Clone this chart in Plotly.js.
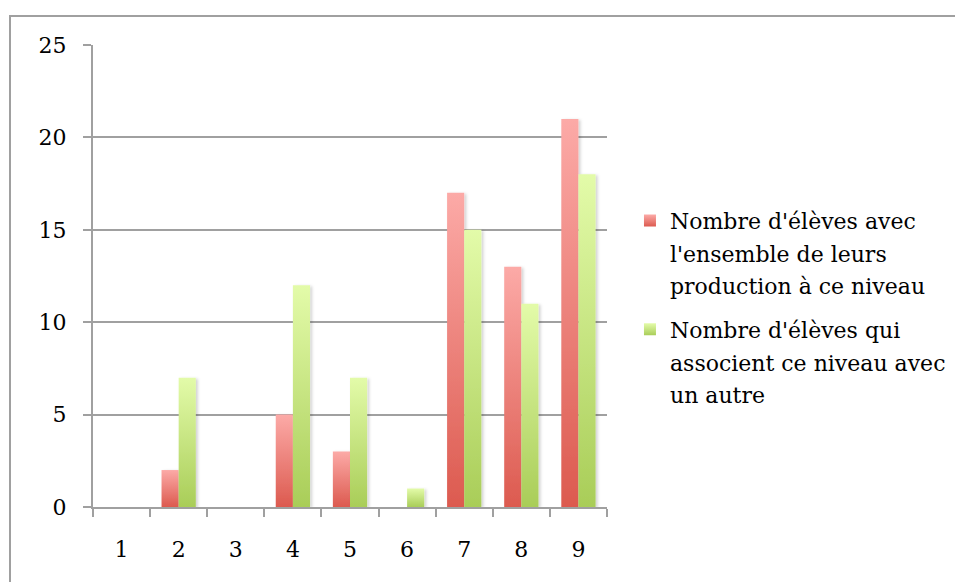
<!DOCTYPE html>
<html>
<head>
<meta charset="utf-8">
<script src="https://cdn.plot.ly/plotly-3.0.1.min.js"></script>
<style>
  html, body { margin: 0; padding: 0; background: #fff; }
  #wrap { position: relative; width: 955px; height: 582px; }
  #chart { position: absolute; left: 0; top: 0; width: 955px; height: 582px; }
  #frame { position: absolute; left: 9px; top: 15px; width: 960px; height: 580px;
           border-left: 2px solid #a0a0a0; border-top: 2px solid #a0a0a0; pointer-events: none; }
</style>
</head>
<body>
<div id="wrap">
  <div id="chart"></div>
  <div id="frame"></div>
</div>
<script>
const categories = ["1", "2", "3", "4", "5", "6", "7", "8", "9"];
const seriesNames = [
  "Nombre d'élèves avec<br>l'ensemble de leurs<br>production à ce niveau",
  "Nombre d'élèves qui<br>associent ce niveau avec<br>un autre"
];
const ensembleValues = [0, 2, 0, 5, 3, 0, 17, 13, 21];
const associeValues = [0, 7, 0, 12, 7, 1, 15, 11, 18];
const yTicks = [0, 5, 10, 15, 20, 25];

const FONT = "'DejaVu Serif', serif";
const FS = 22;
const GRID = "#a0a0a0";

const traces = [
  { type: "bar", name: seriesNames[0], x: categories, y: ensembleValues, legendgroup: "g1",
    marker: { color: "#ec7f78" }, hoverinfo: "none" },
  { type: "bar", name: seriesNames[1], x: categories, y: associeValues, legendgroup: "g2",
    marker: { color: "#c8e580" }, hoverinfo: "none" }
];

const layout = {
  width: 955, height: 582,
  margin: { l: 93, r: 348, t: 45, b: 75, pad: 0, autoexpand: false },
  paper_bgcolor: "#fff", plot_bgcolor: "#fff",
  font: { family: FONT, size: FS, color: "#000" },
  barmode: "group", bargap: 0.4, bargroupgap: 0,
  xaxis: {
    type: "category", tickson: "boundaries",
    ticks: "outside", ticklen: 8, tickwidth: 2, tickcolor: GRID,
    showline: true, linecolor: GRID, linewidth: 2,
    showgrid: false, zeroline: false,
    ticklabelstandoff: 22,
    tickfont: { family: FONT, size: FS, color: "#000" }
  },
  yaxis: {
    range: [0, 25], tickvals: yTicks, ticktext: yTicks.map(String),
    ticks: "outside", ticklen: 8, tickwidth: 2, tickcolor: GRID,
    showline: true, linecolor: GRID, linewidth: 2,
    showgrid: true, gridcolor: GRID, gridwidth: 2, zeroline: false,
    ticklabelstandoff: 12,
    tickfont: { family: FONT, size: FS, color: "#000" }
  },
  legend: {
    x: 1.0447, xanchor: "left", y: 0.665, yanchor: "top", valign: "top",
    traceorder: "grouped",
    font: { family: FONT, size: FS, color: "#000" },
    bgcolor: "rgba(0,0,0,0)", tracegroupgap: 20, itemwidth: 30
  },
  showlegend: true
};

Plotly.newPlot("chart", traces, layout, { staticPlot: true, displayModeBar: false }).then(function (gd) {
  const NS = "http://www.w3.org/2000/svg";
  const svg = gd.querySelector("svg.main-svg");
  let defs = svg.querySelector("defs");
  if (!defs) { defs = document.createElementNS(NS, "defs"); svg.insertBefore(defs, svg.firstChild); }
  function grad(id, top, bottom) {
    const g = document.createElementNS(NS, "linearGradient");
    g.setAttribute("id", id);
    g.setAttribute("x1", "0"); g.setAttribute("y1", "0");
    g.setAttribute("x2", "0"); g.setAttribute("y2", "1");
    [[0, top], [1, bottom]].forEach(function (s) {
      const st = document.createElementNS(NS, "stop");
      st.setAttribute("offset", s[0]);
      st.setAttribute("stop-color", s[1]);
      g.appendChild(st);
    });
    defs.appendChild(g);
  }
  grad("gradRed", "#fcaaa7", "#dc5a4f");
  grad("gradGreen", "#e3fba9", "#a9cd58");
  const f = document.createElementNS(NS, "filter");
  f.setAttribute("id", "barShadow");
  f.setAttribute("x", "-20%"); f.setAttribute("y", "-5%");
  f.setAttribute("width", "150%"); f.setAttribute("height", "110%");
  const ds = document.createElementNS(NS, "feDropShadow");
  ds.setAttribute("dx", "2"); ds.setAttribute("dy", "1");
  ds.setAttribute("stdDeviation", "1.5");
  ds.setAttribute("flood-color", "#000"); ds.setAttribute("flood-opacity", "0.18");
  f.appendChild(ds);
  defs.appendChild(f);
  const ids = ["gradRed", "gradGreen"];
  gd.querySelectorAll(".barlayer .trace").forEach(function (tr, i) {
    tr.querySelectorAll("path").forEach(function (p) {
      p.style.fill = "url(#" + ids[i] + ")";
      p.setAttribute("filter", "url(#barShadow)");
    });
  });
  gd.querySelectorAll(".legend .traces").forEach(function (tr, i) {
    tr.querySelectorAll(".legendpoints path").forEach(function (p) {
      p.style.fill = "url(#" + ids[i] + ")";
    });
  });
  // widen legend line spacing to match reference
  gd.querySelectorAll(".legend .legendtext tspan.line").forEach(function (t) {
    const dy = t.getAttribute("dy");
    if (dy && /em$/.test(dy)) {
      const v = parseFloat(dy);
      if (v > 0) t.setAttribute("dy", (v * 1.14).toFixed(3) + "em");
    }
  });
});
</script>
</body>
</html>
